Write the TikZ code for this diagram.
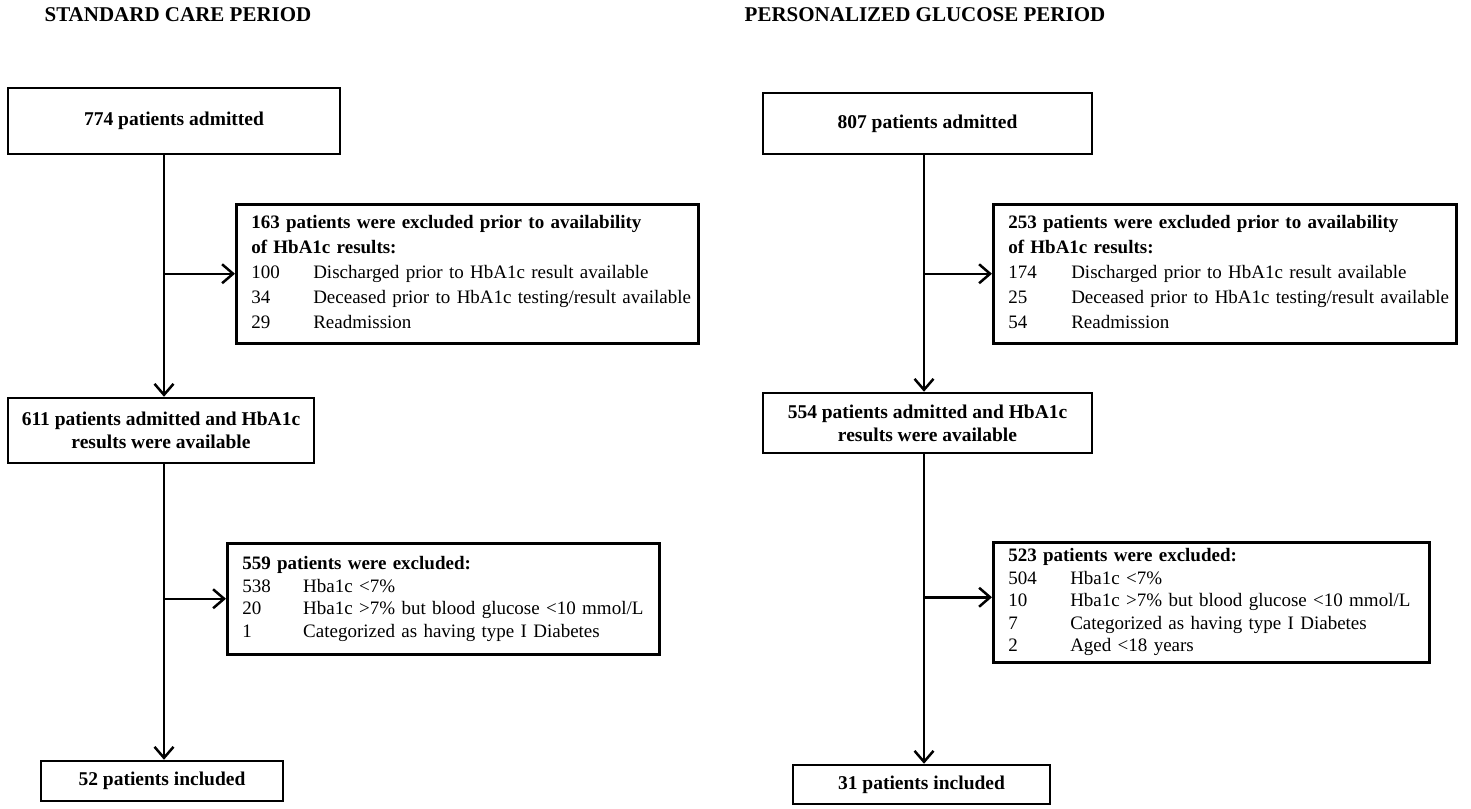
\documentclass[tikz,border=0pt]{standalone}
\usepackage{fontspec}
\setmainfont{Liberation Serif}
\usepackage{tikz}
\usetikzlibrary{positioning,arrows.meta}

\begin{document}
\begin{tikzpicture}[x=1pt,y=-1pt,
		box/.style={draw,line width=2.5pt,align=center,inner sep=0pt,font=\fontsize{19.5}{23}\selectfont\bfseries},
		exbox/.style={draw,line width=2.5pt,anchor=north west,align=left,inner xsep=15pt,inner ysep=0pt},
		arr/.style={line width=2.5pt,-{Straight Barb[length=11pt,width=19pt,line width=2.5pt]}},
		ttl/.style={font=\fontsize{21}{25}\selectfont\bfseries}]
	\useasboundingbox (0,0) rectangle (1471,808);
	\coordinate (lx) at (164,0);
	\coordinate (rx) at (924,0);

	\node[ttl] (ltitle) at (178,15) {STANDARD CARE PERIOD};
	\node[ttl] (rtitle) at (925,15) {PERSONALIZED GLUCOSE PERIOD};

	\node[box,minimum width=332pt,minimum height=66pt] (lb1) at (174,121) {774 patients admitted};
	\node[box,minimum width=306pt,minimum height=65pt] (lb2) at (161,430.5) {611 patients admitted and HbA1c\\results were available};
	\node[box,minimum width=242pt,minimum height=40pt] (lb3) at (162,781) {52 patients included};
	\node[exbox,text width=432pt,minimum height=139pt,font=\fontsize{19}{25}\selectfont] (lex1) at (235,203)
		{\begin{tabular}{@{}p{62pt}@{}l@{}}
		\multicolumn{2}{@{}l@{}}{\bfseries 163 patients were excluded prior to availability}\\
		\multicolumn{2}{@{}l@{}}{\bfseries of HbA1c results:}\\
		100 & Discharged prior to HbA1c result available\\
		34 & Deceased prior to HbA1c testing/result available\\
		29 & Readmission
		\end{tabular}};
	\node[exbox,text width=402pt,minimum height=111pt,font=\fontsize{19}{22.5}\selectfont] (lex2) at (226,542)
		{\begin{tabular}{@{}p{61pt}@{}l@{}}
		\multicolumn{2}{@{}l@{}}{\bfseries 559 patients were excluded:}\\
		538 & Hba1c <7\%\\
		20 & Hba1c >7\% but blood glucose <10 mmol/L\\
		1 & Categorized as having type I Diabetes
		\end{tabular}};

	\node[box,minimum width=329pt,minimum height=61pt] (rb1) at (927.5,123.5) {807 patients admitted};
	\node[box,minimum width=329pt,minimum height=60pt] (rb2) at (927.5,423) {554 patients admitted and HbA1c\\results were available};
	\node[box,minimum width=257pt,minimum height=39pt] (rb3) at (921.5,784.5) {31 patients included};
	\node[exbox,text width=433pt,minimum height=139pt,font=\fontsize{19}{25}\selectfont] (rex1) at (992,203)
		{\begin{tabular}{@{}p{63pt}@{}l@{}}
		\multicolumn{2}{@{}l@{}}{\bfseries 253 patients were excluded prior to availability}\\
		\multicolumn{2}{@{}l@{}}{\bfseries of HbA1c results:}\\
		174 & Discharged prior to HbA1c result available\\
		25 & Deceased prior to HbA1c testing/result available\\
		54 & Readmission
		\end{tabular}};
	\node[exbox,text width=406pt,minimum height=120pt,font=\fontsize{19}{22.5}\selectfont] (rex2) at (992,541)
		{\begin{tabular}{@{}p{62pt}@{}l@{}}
		\multicolumn{2}{@{}l@{}}{\bfseries 523 patients were excluded:}\\
		504 & Hba1c <7\%\\
		10 & Hba1c >7\% but blood glucose <10 mmol/L\\
		7 & Categorized as having type I Diabetes\\
		2 & Aged <18 years
		\end{tabular}};

	\draw[arr] (lb1.south -| lx) -- (lb2.north -| lx);
	\draw[arr] (lb2.south -| lx) -- (lb3.north -| lx);
	\draw[arr] (lex1.west -| lx) -- (lex1.west);
	\draw[arr] (lex2.west -| lx) -- (lex2.west);
	\draw[arr] (rb1.south -| rx) -- (rb2.north -| rx);
	\draw[arr] (rb2.south -| rx) -- (rb3.north -| rx);
	\draw[arr] (rex1.west -| rx) -- (rex1.west);
	\draw[arr] ([yshift=5pt]rex2.west -| rx) -- ([yshift=5pt]rex2.west);
\end{tikzpicture}
\end{document}
